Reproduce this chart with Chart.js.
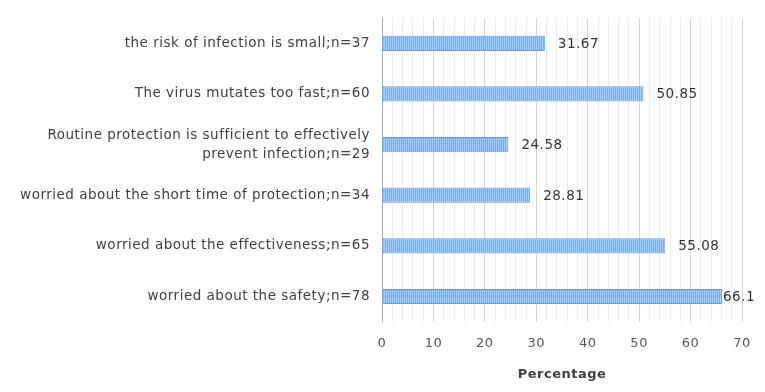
<!DOCTYPE html>
<html>
<head>
<meta charset="utf-8">
<script src="https://cdn.jsdelivr.net/npm/chart.js@4"></script>
<style>
  html, body { margin: 0; padding: 0; background: #fff; }
  #wrap { width: 765px; height: 392px; }
</style>
</head>
<body>
<div id="wrap"><canvas id="c" width="765" height="392"></canvas></div>
<script>
const categories = [
    "the risk of infection is small;n=37",
    "The virus mutates too fast;n=60",
    ["Routine protection is sufficient to effectively", "prevent infection;n=29"],
    "worried about the short time of protection;n=34",
    "worried about the effectiveness;n=65",
    "worried about the safety;n=78"
];
const percentages = [31.67, 50.85, 24.58, 28.81, 55.08, 66.1];
const xTicks = [0, 10, 20, 30, 40, 50, 60, 70];

const FONT = "'DejaVu Sans', sans-serif";

// striped fill like the original bars
const makeStripes = () => {
    const p = document.createElement("canvas");
    p.width = 2; p.height = 2;
    const g = p.getContext("2d");
    g.fillStyle = "#a9cdf4";
    g.fillRect(0, 0, 2, 2);
    g.fillStyle = "#74aae4";
    g.fillRect(1, 0, 1, 2);
    return g.createPattern(p, "repeat");
};

// the original text is set loosely
const spacing = {
    id: "spacing",
    beforeDraw(chart) { chart.ctx.letterSpacing = "0.5px"; }
};

const valueLabels = {
    id: "valueLabels",
    afterDatasetsDraw(chart) {
        const ctx = chart.ctx;
        const meta = chart.getDatasetMeta(0);
        ctx.save();
        ctx.font = "13.5px " + FONT;
        ctx.fillStyle = "#333";
        ctx.textBaseline = "middle";
        meta.data.forEach((bar, i) => {
            const gap = percentages[i] > 60 ? 1 : 13;
            ctx.fillText(String(percentages[i]), bar.x + gap, bar.y + 1);
        });
        ctx.restore();
    }
};

new Chart(document.getElementById("c").getContext("2d"), {
    type: "bar",
    data: {
        labels: categories,
        datasets: [{
            data: percentages,
            backgroundColor: makeStripes(),
            borderColor: "#6699d2",
            borderWidth: 1,
            borderSkipped: false,
            barPercentage: 0.3,
            categoryPercentage: 1
        }]
    },
    options: {
        indexAxis: "y",
        responsive: false,
        animation: false,
        layout: { padding: { left: 4, right: 23, top: 18, bottom: 10 } },
        plugins: {
            legend: { display: false },
            tooltip: { enabled: false }
        },
        scales: {
            x: {
                min: 0,
                max: 70,
                ticks: {
                    stepSize: 2,
                    autoSkip: false,
                    maxRotation: 0,
                    color: "#555",
                    font: { family: FONT, size: 13 },
                    padding: 14,
                    callback: v => xTicks.includes(v) ? v : ""
                },
                grid: {
                    color: c => (c.tick && c.tick.value % 10 === 0) ? "#d4d4d4" : "#ececec",
                    drawTicks: false
                },
                border: { display: false },
                title: {
                    display: true,
                    text: "Percentage",
                    color: "#404040",
                    font: { family: FONT, size: 13, weight: "bold" },
                    padding: { top: 1, bottom: 0 }
                }
            },
            y: {
                afterFit: s => {
                    s.width = 378;
                    s.paddingTop = 0;
                    s.paddingBottom = 0;
                },
                ticks: {
                    color: "#404040",
                    font: { family: FONT, size: 13.5, lineHeight: 1.4 },
                    padding: 12
                },
                grid: { display: false, drawTicks: false },
                border: { display: true, color: "#a6a6a6", width: 1 }
            }
        }
    },
    plugins: [spacing, valueLabels]
});
</script>
</body>
</html>
